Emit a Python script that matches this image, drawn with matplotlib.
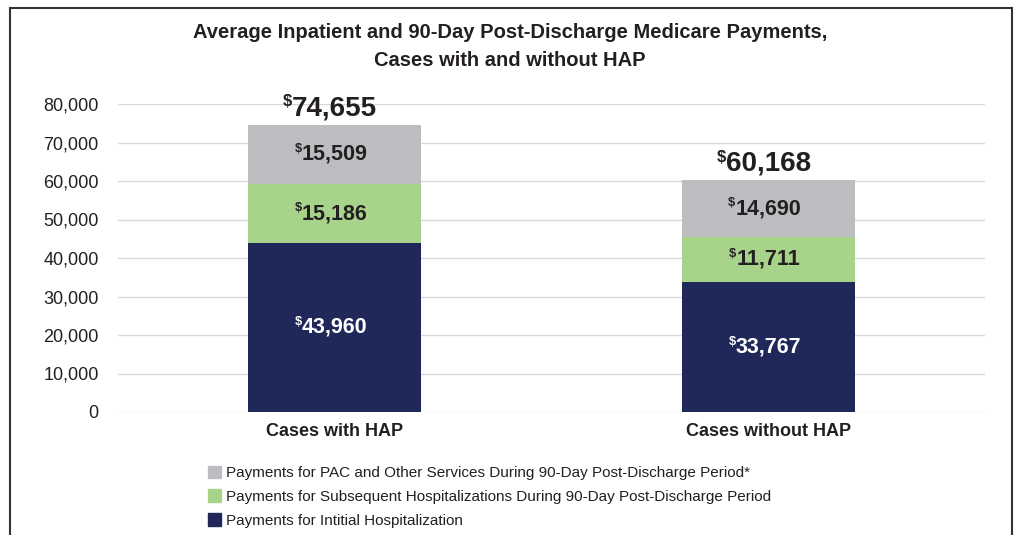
import matplotlib
matplotlib.use("Agg")
import matplotlib.pyplot as plt
from matplotlib.patches import Patch
from matplotlib.lines import Line2D
from matplotlib import font_manager

# data
categories = ["Cases with HAP", "Cases without HAP"]
initial = [43960, 33767]
subsequent = [15186, 11711]
pac = [15509, 14690]
totals = [74655, 60168]
legend_labels = [
    "Payments for PAC and Other Services During 90-Day Post-Discharge Period*",
    "Payments for Subsequent Hospitalizations During 90-Day Post-Discharge Period",
    "Payments for Intitial Hospitalization",
]
yticks = [0, 10000, 20000, 30000, 40000, 50000, 60000, 70000, 80000]

names = {f.name for f in font_manager.fontManager.ttflist}
family = "Liberation Sans Narrow" if "Liberation Sans Narrow" in names else "Liberation Sans"
plt.rcParams["font.family"] = [family, "DejaVu Sans"]

c_pac = "#bcbdc0"
c_sub = "#a7d38b"
c_ini = "#1f2858"
c_txt = "#231f20"

fig = plt.figure(figsize=(10.2, 5.35), dpi=100)
ax = fig.add_axes([118 / 1020, 1 - 412 / 535, 867 / 1020, 308 / 535])

x = list(range(len(categories)))
w = 0.4
ax.bar(x, initial, w, color=c_ini, zorder=3)
ax.bar(x, subsequent, w, bottom=initial, color=c_sub, zorder=3)
bot2 = [a + b for a, b in zip(initial, subsequent)]
ax.bar(x, pac, w, bottom=bot2, color=c_pac, zorder=3)

ax.set_xlim(-0.5, 1.5)
ax.set_ylim(0, 80000)
ax.set_yticks(yticks)
ax.set_yticklabels([f"{v:,}" for v in yticks], fontsize=13, color=c_txt)
ax.set_xticks(x)
ax.set_xticklabels(categories, fontsize=13, fontweight="bold", color=c_txt)
ax.tick_params(axis="y", length=0, pad=14)
ax.tick_params(axis="x", length=0, pad=8)
ax.grid(axis="y", color="#d9d9d9", linewidth=1, zorder=0)
for s in ax.spines.values():
    s.set_visible(False)

fig.canvas.draw()
renderer = fig.canvas.get_renderer()


def dollar_label(xc, y, value, size, color, va="center"):
    t = ax.text(xc, y, f"{value:,}", ha="center", va=va, fontsize=size,
                fontweight="bold", color=color, zorder=5)
    bb = t.get_window_extent(renderer=renderer)
    inv = ax.transData.inverted()
    xl, _ = inv.transform((bb.x0, bb.y1))
    _, ytop = inv.transform((bb.x0, bb.y1 + size * 0.05))
    ax.text(xl, ytop, "$", ha="right", va="top", fontsize=size * 0.6,
            fontweight="bold", color=color, zorder=5)


for i in x:
    dollar_label(i, initial[i] / 2, initial[i], 15.5, "white")
    dollar_label(i, initial[i] + subsequent[i] / 2, subsequent[i], 15.5, c_txt)
    dollar_label(i, bot2[i] + pac[i] / 2, pac[i], 15.5, c_txt)
    dollar_label(i, totals[i] + 900, totals[i], 20, c_txt, va="bottom")

fig.text(0.5, 1 - 33 / 535, "Average Inpatient and 90-Day Post-Discharge Medicare Payments,",
         ha="center", va="center", fontsize=14.5, fontweight="bold", color=c_txt)
fig.text(0.5, 1 - 60 / 535, "Cases with and without HAP",
         ha="center", va="center", fontsize=14.5, fontweight="bold", color=c_txt)

handles = [Patch(color=c_pac), Patch(color=c_sub), Patch(color=c_ini)]
fig.legend(handles, legend_labels, loc="upper left",
           bbox_to_anchor=(200 / 1020, 1 - 458 / 535), frameon=False,
           fontsize=11, handlelength=0.85, handleheight=0.85,
           handletextpad=0.35, labelspacing=0.62, borderpad=0, labelcolor=c_txt)

# frame around the figure
for xs, ys in [((10 / 1020, 10 / 1020), (0, 1 - 8 / 535)),
               ((10 / 1020, 1012 / 1020), (1 - 8 / 535, 1 - 8 / 535)),
               ((1012 / 1020, 1012 / 1020), (0, 1 - 8 / 535))]:
    fig.add_artist(Line2D(xs, ys, color="#333333", linewidth=1.5,
                          transform=fig.transFigure))

fig.savefig("out.png", dpi=100)
